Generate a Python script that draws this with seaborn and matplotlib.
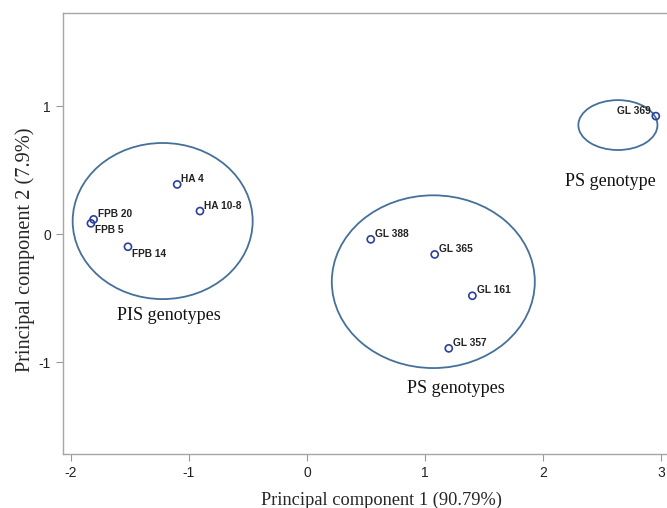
import matplotlib.pyplot as plt
import seaborn as sns
import pandas as pd
from matplotlib.patches import Ellipse

genotypes = ["HA 4", "HA 10-8", "FPB 20", "FPB 5", "FPB 14",
             "GL 388", "GL 365", "GL 161", "GL 357", "GL 369"]
pc1 = [-1.10, -0.907, -1.808, -1.831, -1.517, 0.54, 1.082, 1.401, 1.201, 2.955]
pc2 = [0.388, 0.18, 0.115, 0.084, -0.099, -0.041, -0.159, -0.482, -0.893, 0.922]

group_names = ["PIS genotypes", "PS genotypes", "PS genotype"]
group_centre_x = [-1.223, 1.07, 2.634]
group_centre_y = [0.102, -0.372, 0.852]
group_width = [1.525, 1.72, 0.67]
group_height = [1.22, 1.35, 0.39]
group_label_x = [-1.17, 1.265, 2.57]
group_label_y = [-0.64, -1.21, 0.41]

df = pd.DataFrame({"genotype": genotypes, "pc1": pc1, "pc2": pc2})

sns.set_style("white")
plt.rcParams["axes.unicode_minus"] = False
fig = plt.figure(figsize=(6.67, 5.08), dpi=100)
ax = fig.add_axes([0.094, 0.1057, 0.906, 0.869])

sns.scatterplot(data=df, x="pc1", y="pc2", ax=ax, marker="o", s=26,
                facecolor="none", edgecolor="#2b3f9e", linewidth=1.2, zorder=3)

# label offsets in points (dx, dy, ha)
offsets = {"FPB 5": (3, -5, "left"), "FPB 14": (3, -5, "left"),
           "GL 369": (-3.5, 4, "right")}
for name, x, y in zip(genotypes, pc1, pc2):
    dx, dy, ha = offsets.get(name, (3, 4, "left"))
    ax.annotate(name, (x, y), xytext=(dx, dy), textcoords="offset points",
                ha=ha, va="center", fontsize=7.3, fontweight="bold",
                family="Liberation Sans", color="#222222")

for cx, cy, w, h in zip(group_centre_x, group_centre_y, group_width, group_height):
    ax.add_patch(Ellipse((cx, cy), w, h, fill=False, edgecolor="#44709a", linewidth=1.3))

for name, x, y in zip(group_names, group_label_x, group_label_y):
    ax.text(x, y, name, ha="center", va="center", fontsize=13,
            family="Liberation Serif", color="#111111")

ax.set_xlim(-2.07, 3.05)
ax.set_ylim(-1.721, 1.729)
ax.set_xticks([-2, -1, 0, 1, 2, 3])
ax.set_yticks([-1, 0, 1])
ax.tick_params(axis="both", length=5, width=0.8, color="#999999", labelsize=10,
               labelcolor="#222222", direction="out", bottom=True, left=True)
for lab in ax.get_xticklabels() + ax.get_yticklabels():
    lab.set_family("Liberation Sans")

for side in ["top", "bottom", "left"]:
    ax.spines[side].set_color("#a6a6a6")
    ax.spines[side].set_linewidth(1.0)
ax.spines["right"].set_visible(False)

ax.set_xlabel("Principal component 1 (90.79%)", fontsize=13.2,
              family="Liberation Serif")
ax.set_ylabel("Principal component 2 (7.9%)", fontsize=14.6,
              family="Liberation Serif")
ax.xaxis.set_label_coords(0.528, -0.084)
ax.yaxis.set_label_coords(-0.046, 0.463)

fig.savefig("out.png", dpi=100)
